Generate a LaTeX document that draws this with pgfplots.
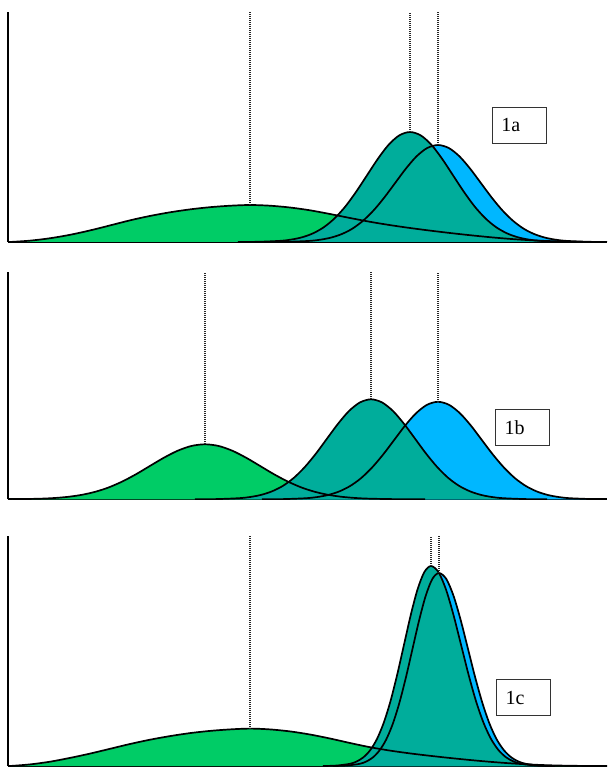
\documentclass[border=0pt]{standalone}
\usepackage{fontspec}
\setmainfont{Liberation Serif}
\usepackage{pgfplots}
\usepackage{pgfplotstable}
\pgfplotsset{compat=1.18}
\definecolor{cgreen}{RGB}{0,204,102}
\definecolor{cteal}{RGB}{0,173,155}
\definecolor{cblue}{RGB}{0,183,255}

% ---- panel 1a ----
\pgfplotstableread{
x y
10 0
30 1.35
50 3.75
70 7.19
90 11.57
110 16.57
130 21.67
150 26.05
170 29.7
190 32.62
210 34.81
230 36.27
250 37.0
270 36.3
290 34.5
310 31.7
330 28.0
350 24.0
370 20.2
390 16.9
410 14.0
430 11.4
450 9.0
470 6.8
490 4.8
510 3.1
530 1.8
550 0.9
570 0.34
590 0.04
607 0
}\gA
\pgfplotstableread{
x y
238 0
259.5 0.24
281 1.22
291.75 2.51
302.5 4.83
313.25 8.76
324 14.9
334.75 23.8
345.5 35.7
356.25 50.4
367 66.7
377.75 83.0
388.5 97.1
399.25 106.6
410 110
420.75 106.6
431.5 97.1
442.25 83.0
453 66.7
463.75 50.4
474.5 35.7
485.25 23.8
496 14.9
506.75 8.76
517.5 4.83
528.25 2.51
539 1.22
560.5 0.24
582 0
}\tA
\pgfplotstableread{
x y
266 0
287.5 0.21
309 1.08
319.75 2.21
330.5 4.26
341.25 7.72
352 13.1
362.75 21.0
373.5 31.5
384.25 44.4
395 58.8
405.75 73.2
416.5 85.6
427.25 94.0
438 97
448.75 94.0
459.5 85.6
470.25 73.2
481 58.8
491.75 44.4
502.5 31.5
513.25 21.0
524 13.1
534.75 7.72
545.5 4.26
556.25 2.21
567 1.08
588.5 0.21
605 0
}\bA
% ---- panel 1b ----
\pgfplotstableread{
x y
12.5 0
40 0.61
53.75 1.25
67.5 2.41
81.25 4.38
95 7.44
108.75 11.9
122.5 17.9
136.25 25.2
150 33.4
163.75 41.5
177.5 48.5
191.25 53.3
205 55
218.75 53.3
232.5 48.5
246.25 41.5
260 33.4
273.75 25.2
287.5 17.9
301.25 11.9
315 7.44
328.75 4.38
342.5 2.41
356.25 1.25
370 0.61
397.5 0.12
425 0
}\gB
\pgfplotstableread{
x y
195 0
217 0.22
239 1.11
250 2.28
261 4.39
272 7.96
283 13.5
294 21.6
305 32.5
316 45.8
327 60.7
338 75.5
349 88.3
360 96.9
371 100
382 96.9
393 88.3
404 75.5
415 60.7
426 45.8
437 32.5
448 21.6
459 13.5
470 7.96
481 4.39
492 2.28
503 1.11
525 0.22
547 0
}\tB
\pgfplotstableread{
x y
262 0
284 0.21
306 1.08
317 2.22
328 4.28
339 7.76
350 13.2
361 21.1
372 31.7
383 44.6
394 59.1
405 73.6
416 86.0
427 94.5
438 97.5
449 94.5
460 86.0
471 73.6
482 59.1
493 44.6
504 31.7
515 21.1
526 13.2
537 7.76
548 4.28
559 2.22
570 1.08
592 0.21
605 0
}\bB
% ---- panel 1c ----
\pgfplotstableread{
x y
10 0
30 1.6
50 4.3
70 8.1
90 12.4
110 17.2
130 22.0
150 26.3
170 29.9
190 32.9
210 35.1
230 36.6
250 37.4
270 36.6
290 34.6
310 31.5
330 27.5
350 23.0
370 18.8
390 15.4
410 12.6
430 10.2
450 8.0
470 6.0
490 4.2
510 2.7
530 1.5
550 0.7
570 0.25
590 0.03
607 0
}\gC
\pgfplotstableread{
x y
323 0
336.5 0.44
350 2.22
356.75 4.56
363.5 8.78
370.25 15.9
377 27.1
383.75 43.3
390.5 64.9
397.25 91.6
404 121.3
410.75 151.0
417.5 176.5
424.25 193.8
431 200
438.5 193.8
446 176.5
453.5 151.0
461 121.3
468.5 91.6
476 64.9
483.5 43.3
491 27.1
498.5 15.9
506 8.78
513.5 4.56
521 2.22
536 0.44
551 0
}\tC
\pgfplotstableread{
x y
333 0
346.25 0.42
359.5 2.14
366.125 4.40
372.75 8.47
379.375 15.4
386 26.1
392.625 41.7
399.25 62.7
405.875 88.4
412.5 117.1
419.125 145.7
425.75 170.3
432.375 187.1
439 193
446.25 187.1
453.5 170.3
460.75 145.7
468 117.1
475.25 88.4
482.5 62.7
489.75 41.7
497 26.1
504.25 15.4
511.5 8.47
518.75 4.40
526 2.14
540.5 0.42
555 0
}\bC

\pgfplotsset{
  panel/.style={scale only axis, width=299.5pt, xmin=8, xmax=607, ymin=0,
    axis x line=bottom, axis y line=left,
    axis line style={-, line width=1pt, black},
    xtick=\empty, ytick=\empty, anchor=south west},
  fg/.style={fill=cgreen, draw=none, smooth, no markers},
  ft/.style={fill=cteal, draw=none, smooth, no markers},
  fb/.style={fill=cblue, draw=none, smooth, no markers},
  curve/.style={black, line width=0.85pt, smooth, no markers},
  dots/.style={black!85, line width=0.6pt, dash pattern=on 0.5pt off 0.5pt, no markers}
}
\tikzset{
  lbl/.style={draw=black!80, line width=0.55pt, anchor=north west, minimum height=18pt,
    text width=18pt, inner xsep=4.5pt, inner ysep=0pt, align=left,
    font=\fontsize{10}{12}\selectfont}
}

\begin{document}
\begin{tikzpicture}
\useasboundingbox (0,0) rectangle (303.5pt,383.5pt);
% panel 1a
\begin{axis}[panel, at={(4pt,262.5pt)}, height=115pt, ymax=230]
\addplot[fg] table {\gA} \closedcycle;
\addplot[fb] table {\bA} \closedcycle;
\addplot[ft] table {\tA} \closedcycle;
\addplot[curve] table {\gA};
\addplot[curve] table {\bA};
\addplot[curve] table {\tA};
\addplot[dots] coordinates {(250,37) (250,230)};
\addplot[dots] coordinates {(410,110) (410,230)};
\addplot[dots] coordinates {(438,97) (438,230)};
\node[lbl] at (axis cs:491.7,135.3) {1a};
\end{axis}
% panel 1b
\begin{axis}[panel, at={(4pt,133.85pt)}, height=113.5pt, ymax=227]
\addplot[fg] table {\gB} \closedcycle;
\addplot[fb] table {\bB} \closedcycle;
\addplot[ft] table {\tB} \closedcycle;
\addplot[curve] table {\gB};
\addplot[curve] table {\bB};
\addplot[curve] table {\tB};
\addplot[dots] coordinates {(205,55) (205,227)};
\addplot[dots] coordinates {(371,100) (371,227)};
\addplot[dots] coordinates {(438,97.5) (438,227)};
\node[lbl] at (axis cs:495,90) {1b};
\end{axis}
% panel 1c
\begin{axis}[panel, at={(4pt,0.5pt)}, height=115pt, ymax=230]
\addplot[fg] table {\gC} \closedcycle;
\addplot[fb] table {\bC} \closedcycle;
\addplot[ft] table {\tC} \closedcycle;
\addplot[curve] table {\gC};
\addplot[curve] table {\bC};
\addplot[curve] table {\tC};
\addplot[dots] coordinates {(250,37.4) (250,230)};
\addplot[dots] coordinates {(431,200) (431,230)};
\addplot[dots] coordinates {(439,193) (439,230)};
\node[lbl] at (axis cs:496,86.7) {1c};
\end{axis}
\end{tikzpicture}
\end{document}
